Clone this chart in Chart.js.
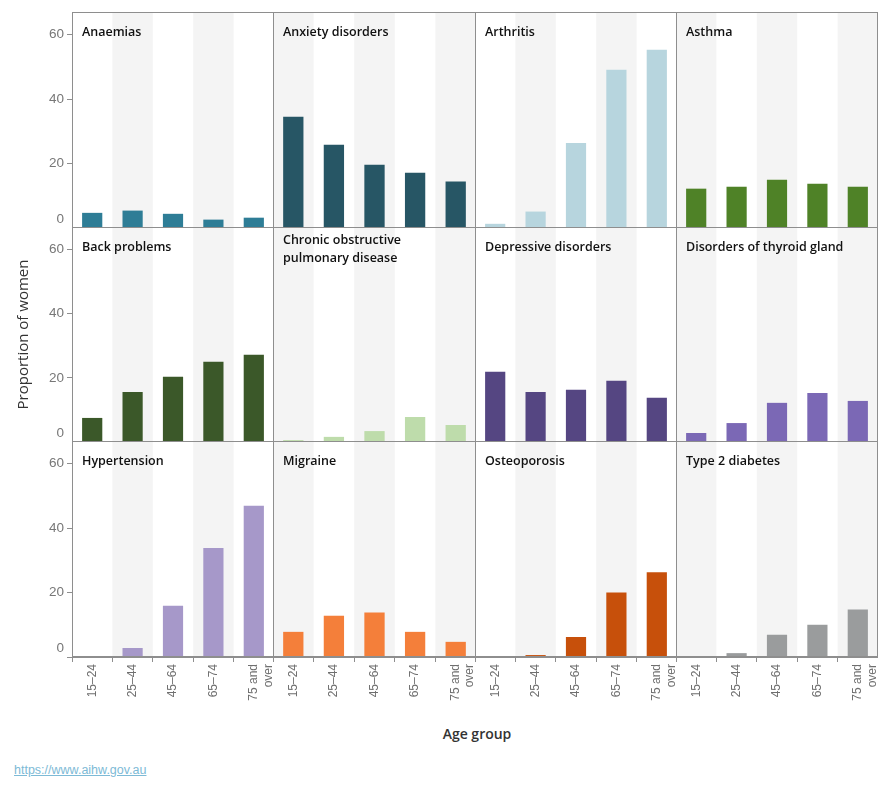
<!DOCTYPE html>
<html><head><meta charset="utf-8">
<script src="https://cdn.jsdelivr.net/npm/chart.js@4/dist/chart.umd.min.js"></script>
<style>
html,body{margin:0;padding:0;background:#fff;}
#wrap{position:relative;width:890px;height:800px;overflow:hidden;background:#fff;}
#wrap canvas{position:absolute;}
.ptitle{position:absolute;font-family:'Open Sans',sans-serif;font-weight:600;font-size:12.5px;color:#111;line-height:18px;white-space:nowrap;}
#xtitle{position:absolute;left:0;width:954px;top:724px;text-align:center;font-family:'Open Sans',sans-serif;font-weight:600;font-size:14px;color:#333;}
#src{position:absolute;left:14px;top:763px;font-family:'Liberation Sans',Arial,sans-serif;font-size:12.5px;color:#7dbad6;text-decoration:underline;}
</style></head><body>
<div id="wrap"><div id="xtitle">Age group</div><div id="src">https://www.aihw.gov.au</div></div>
<script>
// ---- data ----
const ageGroups = ['15–24', '25–44', '45–64', '65–74', '75 and over'];
const conditions = ['Anaemias', 'Anxiety disorders', 'Arthritis', 'Asthma',
  'Back problems', 'Chronic obstructive\npulmonary disease', 'Depressive disorders', 'Disorders of thyroid gland',
  'Hypertension', 'Migraine', 'Osteoporosis', 'Type 2 diabetes'];
const anaemias      = [4.7, 5.4, 4.4, 2.6, 3.2];
const anxiety       = [34.5, 25.8, 19.6, 17.1, 14.4];
const arthritis     = [1.3, 5.1, 26.4, 49.1, 55.3];
const asthma        = [12.2, 12.8, 15.0, 13.7, 12.8];
const backProblems  = [7.5, 15.6, 20.3, 25.0, 27.2];
const copd          = [0.6, 1.6, 3.4, 7.8, 5.3];
const depressive    = [21.9, 15.6, 16.3, 19.1, 13.8];
const thyroid       = [2.8, 5.9, 12.2, 15.3, 12.8];
const hypertension  = [null, 2.8, 15.9, 33.8, 46.9];
const migraine      = [7.8, 12.8, 13.8, 7.8, 4.7];
const osteoporosis  = [0.3, 0.6, 6.2, 20.0, 26.3];
const type2Diabetes = [null, 1.2, 6.9, 10.0, 14.7];
const yTicks = [0, 20, 40, 60];
const yMax = 67;

const seriesValues = [anaemias, anxiety, arthritis, asthma, backProblems, copd, depressive, thyroid,
  hypertension, migraine, osteoporosis, type2Diabetes];
const colors = ['#2e7d96', '#275665', '#b7d5de', '#4f8227', '#3b5829', '#bedcab', '#554682', '#7b68b5',
  '#a698c9', '#f47f3a', '#c7500b', '#9a9c9d'];

// ---- layout ----
const colEdges = [72, 273, 475, 676, 877];
const rowEdges = [12, 227, 441, 656];
const axisW = 72, xAxisH = 62;
const frameColor = '#8e8e8e';
const bandColor = '#f4f4f4';

const bandsPlugin = {
  id: 'bands',
  beforeDatasetsDraw(chart, args, opts) {
    const { ctx, chartArea: a, scales: { x } } = chart;
    const n = chart.data.labels.length;
    const half = (x.getPixelForValue(1) - x.getPixelForValue(0)) / 2;
    ctx.save();
    ctx.fillStyle = bandColor;
    for (let i = 0; i < n; i++) {
      if ((opts.col * n + i) % 2 === 1) {
        const c = x.getPixelForValue(i);
        ctx.fillRect(c - half, a.top, half * 2, a.bottom - a.top);
      }
    }
    ctx.restore();
  }
};
const framePlugin = {
  id: 'frame',
  afterDatasetsDraw(chart) {
    const { ctx, chartArea: a } = chart;
    ctx.save();
    ctx.strokeStyle = frameColor;
    ctx.lineWidth = 1;
    ctx.strokeRect(a.left + 0.5, a.top + 0.5, a.right - a.left - 1, a.bottom - a.top - 1);
    ctx.restore();
  }
};

const wrap = document.getElementById('wrap');
for (let r = 0; r < 3; r++) {
  for (let c = 0; c < 4; c++) {
    const k = r * 4 + c;
    const cx0 = c === 0 ? 0 : colEdges[c];
    const cw = colEdges[c + 1] - cx0 + 1;
    const cy0 = rowEdges[r];
    const ch = rowEdges[r + 1] - cy0 + 1 + (r === 2 ? xAxisH : 0);
    const cv = document.createElement('canvas');
    cv.width = cw; cv.height = ch;
    cv.style.left = cx0 + 'px'; cv.style.top = cy0 + 'px';
    cv.style.width = cw + 'px'; cv.style.height = ch + 'px';
    wrap.appendChild(cv);
    const showX = r === 2, showY = c === 0;

    new Chart(cv, {
      type: 'bar',
      data: {
        labels: ageGroups,
        datasets: [{ data: seriesValues[k], backgroundColor: colors[k], borderWidth: 0,
          barPercentage: 0.5, categoryPercentage: 1.0 }]
      },
      options: {
        responsive: false, animation: false, devicePixelRatio: 1, events: [],
        layout: { padding: 0 },
        plugins: { legend: { display: false }, tooltip: { enabled: false }, bands: { col: c } },
        scales: {
          x: {
            display: showX,
            offset: true,
            grid: { display: true, drawOnChartArea: false, offset: true, tickLength: 5, color: frameColor },
            border: { display: true, color: frameColor },
            ticks: {
              minRotation: 90, maxRotation: 90, autoSkip: false, padding: 2,
              color: '#6f6f6f', font: { family: "'Liberation Sans', Arial, sans-serif", size: 12 },
              callback: (v, i) => ageGroups[i] === '75 and over' ? ['75 and', 'over'] : ageGroups[i]
            },
            afterFit: s => { if (showX) s.height = xAxisH; s.paddingLeft = 0; s.paddingRight = 0; s.paddingTop = 0; s.paddingBottom = 0; }
          },
          y: {
            display: showY,
            min: 0, max: yMax,
            afterBuildTicks: s => { s.ticks = yTicks.map(v => ({ value: v })); },
            grid: { display: true, drawOnChartArea: false, tickLength: 5, color: frameColor },
            border: { display: true, color: frameColor },
            ticks: {
              padding: 3, color: '#777',
              font: ctx => ({ family: "'Liberation Sans', Arial, sans-serif", size: 13.5,
                lineHeight: (ctx.tick && ctx.tick.value === 0) ? 1.3 : 1.2 }),
              callback: v => v === 0 ? ['0', ''] : String(v)
            },
            title: {
              display: r === 1, text: 'Proportion of women', color: '#333',
              font: { family: "'Open Sans', sans-serif", size: 15 },
              padding: { top: 15, bottom: 0 }
            },
            afterFit: s => { if (showY) s.width = axisW; s.paddingTop = 0; s.paddingBottom = 0; s.paddingLeft = 0; s.paddingRight = 0; }
          }
        }
      },
      plugins: [bandsPlugin, framePlugin]
    });

    const t = document.createElement('div');
    t.className = 'ptitle';
    const multi = conditions[k].includes('\n');
    t.style.left = (colEdges[c] + 10) + 'px';
    t.style.top = (rowEdges[r] + (multi ? 4 : 11)) + 'px';
    t.innerHTML = conditions[k].split('\n').join('<br>');
    wrap.appendChild(t);
  }
}
</script>
</body></html>
